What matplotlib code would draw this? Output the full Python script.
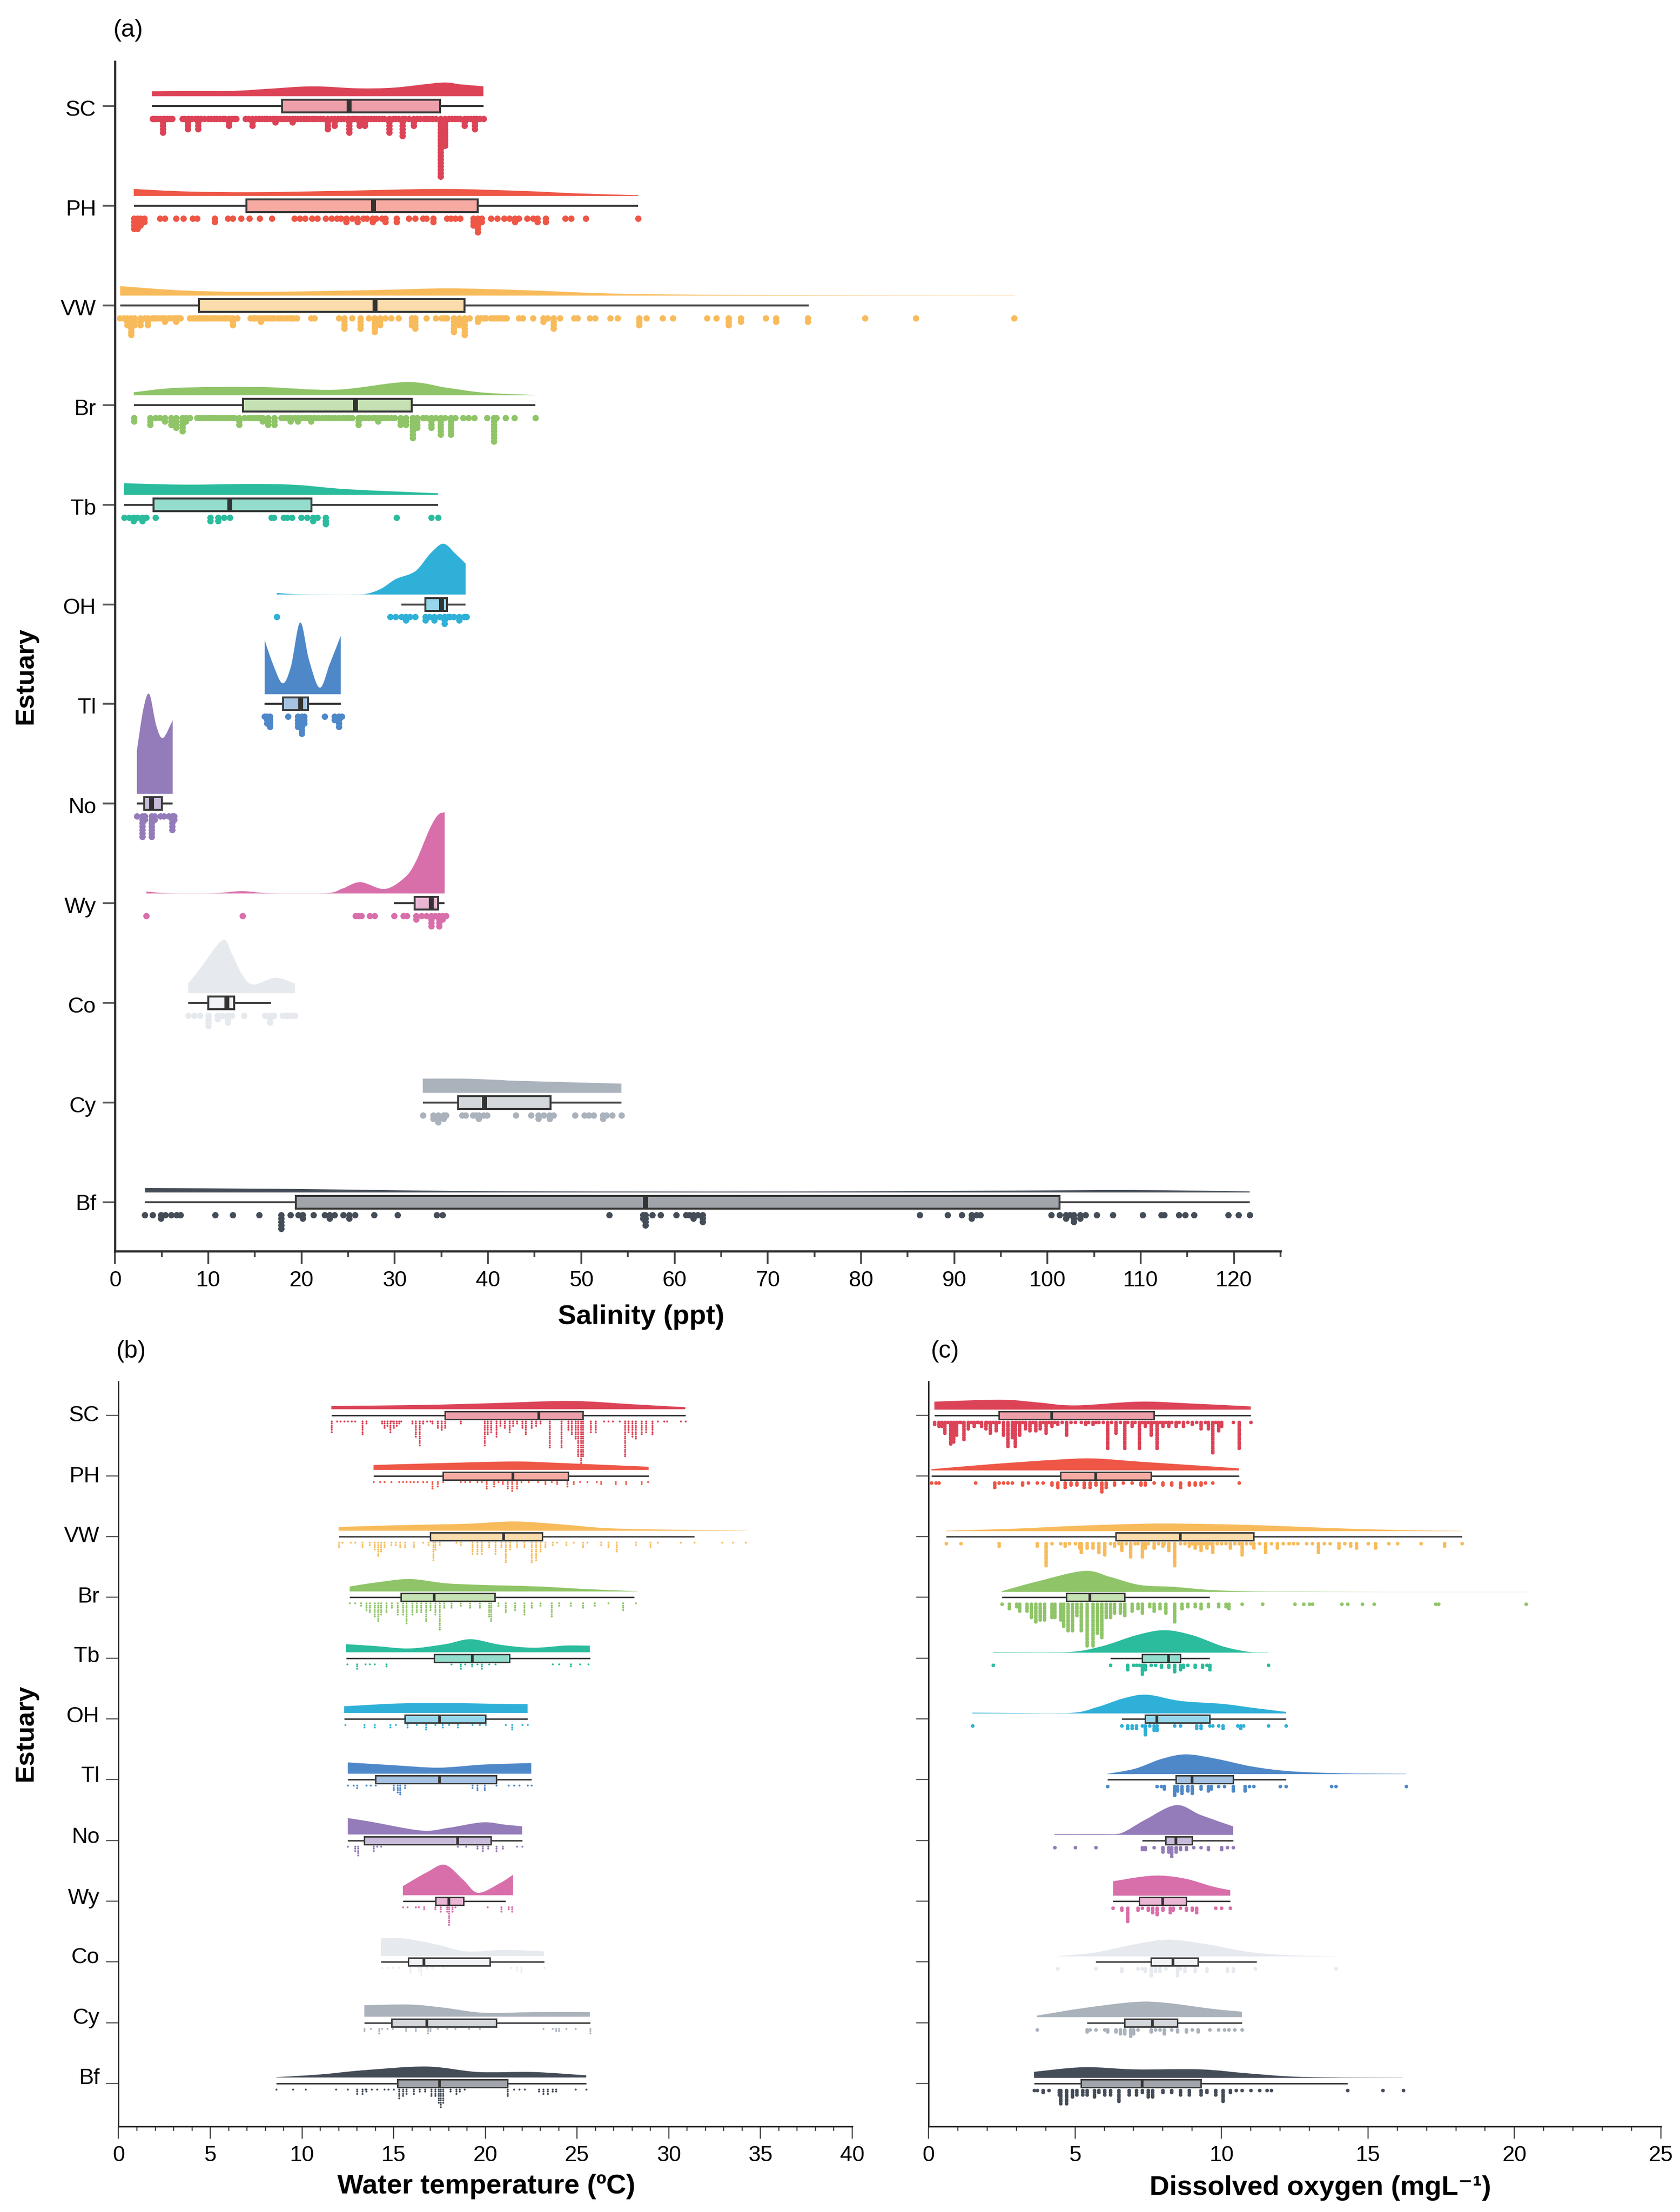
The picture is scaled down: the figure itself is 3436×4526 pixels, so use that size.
import matplotlib
matplotlib.use("Agg")
import matplotlib.pyplot as plt
from matplotlib.path import Path
from matplotlib.patches import PathPatch
from matplotlib.colors import to_rgba
from matplotlib.ticker import MultipleLocator
from matplotlib.transforms import ScaledTranslation

plt.rcParams['font.family'] = ['Liberation Sans', 'DejaVu Sans']

estuaries = ['SC', 'PH', 'VW', 'Br', 'Tb', 'OH', 'Tl', 'No', 'Wy', 'Co', 'Cy', 'Bf']
colours = ['#DC4357', '#EE5646', '#F8BB5B', '#8FC568', '#2ABC9D', '#2FB0D8',
           '#4F88C8', '#947BB9', '#D86FAA', '#E6E9EE', '#AAB2BC', '#444C58']

# ---------- box statistics ----------
sal_low = [3.95, 2, .54, 2, .95, 30.7, 16.05, 2.33, 29.9, 7.83, 33, 3.2]
sal_q1 = [17.9, 14.1, 9, 13.7, 4.1, 33.3, 18, 3.1, 32.1, 10, 36.8, 19.4]
sal_med = [25.1, 27.7, 27.9, 25.8, 12.3, 35, 19.9, 3.9, 33.9, 12, 39.6, 56.9]
sal_q3 = [34.85, 38.9, 37.5, 31.8, 21.05, 35.6, 20.7, 5, 34.65, 12.8, 46.7, 101.3]
sal_high = [39.5, 56.1, 74.4, 45.1, 34.65, 37.6, 24.2, 6.18, 35.35, 16.7, 54.3, 121.7]

tem_low = [11.6, 13.9, 12, 12.6, 12.4, 12.3, 12.5, 12.5, 15.5, 14.3, 13.4, 8.6]
tem_q1 = [17.8, 17.7, 17, 15.4, 17.2, 15.6, 14, 13.4, 17.3, 15.8, 14.9, 15.2]
tem_med = [22.9, 21.5, 21, 17.2, 19.3, 17.5, 17.5, 18.5, 18, 16.65, 16.8, 17.5]
tem_q3 = [25.3, 24.5, 23.1, 20.5, 21.3, 20, 20.6, 20.3, 18.8, 20.25, 20.6, 21.2]
tem_high = [30.9, 28.9, 31.4, 28.1, 25.7, 22.3, 22.5, 22, 21.1, 23.2, 25.7, 25.5]

oxy_low = [.2, .1, .6, 2.5, 6.2, 6.6, 6.1, 7.3, 6.3, 5.7, 5.4, 3.6]
oxy_q1 = [2.4, 4.5, 6.4, 4.7, 7.3, 7.4, 8.45, 8.1, 7.2, 7.6, 6.7, 5.2]
oxy_med = [4.2, 5.7, 8.6, 5.5, 8.2, 7.8, 9, 8.45, 8, 8.35, 7.65, 7.3]
oxy_q3 = [7.7, 7.6, 11.1, 6.7, 8.6, 9.6, 10.4, 9, 8.8, 9.2, 8.5, 9.3]
oxy_high = [11, 10.6, 18.2, 9.6, 9.6, 12.2, 12.2, 10.4, 10.3, 11.2, 10.7, 14.3]

# ---------- density curves (x value, height as % of a row) ----------
sal_SC_x = [3.95, 7.6, 12.8, 16.4, 21.2, 26, 30, 35, 37, 39.5]
sal_SC_h = [5, 5.5, 5.5, 7.5, 10, 8, 8.75, 13.75, 12, 10]
sal_PH_x = [2, 7.6, 14.8, 23.6, 34.9, 43.7, 49.7, 56.1]
sal_PH_h = [7, 4.5, 3.75, 5, 7, 5, 2.5, .75]
sal_VW_x = [.54, 7.6, 15.6, 27.6, 35.6, 43.7, 51.7, 58.4, 70, 80, 96.5]
sal_VW_h = [9.5, 5, 3.75, 5.5, 7.25, 5.5, 2.5, 1.25, .6, .3, .2]
sal_Br_x = [2, 6.8, 15.6, 23.6, 31.2, 35.6, 39.7, 45.1]
sal_Br_h = [3, 7.5, 8.25, 5.5, 13.25, 7.5, 2.5, .25]
sal_Tb_x = [.95, 7.5, 14.7, 19.5, 24.9, 34.65]
sal_Tb_h = [11.7, 10.3, 11, 10, 5.7, 1.6]
sal_OH_x = [17.35, 19.6, 25.6, 27.1, 28.6, 30.1, 32.2, 33.8, 35.2, 36.5, 37.6]
sal_OH_h = [1.7, .3, .1, 1, 6.2, 15.5, 23.4, 41, 51, 41, 31]
sal_Tl_x = [16.05, 16.9, 17.95, 18.85, 19.85, 20.8, 21.95, 23.05, 24.2]
sal_Tl_h = [54, 31, 11, 27.5, 72, 34.4, 6.5, 31, 58.5]
sal_No_x = [2.33, 3.05, 3.68, 4.4, 5.13, 6.18]
sal_No_h = [43, 86, 100, 69, 56, 74]
sal_Wy_x = [3.35, 5.76, 10.6, 13.6, 16.6, 22.6, 24.4, 26.3, 28.9, 31, 32.2, 33.75, 34.65, 35.35]
sal_Wy_h = [2, .3, .3, 2.4, .3, .3, 5, 11.4, 4.5, 15.5, 31, 65, 79, 81.5]
sal_Co_x = [7.83, 9.07, 11.5, 12.5, 13.6, 14.8, 17.2, 19.3]
sal_Co_h = [9.6, 24, 53, 40, 19, 8.6, 15.5, 9.6]
sal_Cy_x = [33, 37.3, 41, 43.3, 54.3]
sal_Cy_h = [14.2, 14.2, 13, 12, 9.2]
sal_Bf_x = [3.2, 17.3, 30.3, 40.3, 63.7, 80, 95, 109, 121.7]
sal_Bf_h = [4.4, 3.7, 2.2, 1.3, .9, 1.2, 1.8, 2.4, 1.1]

tem_SC_x = [11.6, 16.5, 20.3, 24.65, 28, 30.9]
tem_SC_h = [5.3, 7, 9.9, 13.6, 8.2, 3.3]
tem_PH_x = [13.9, 17.8, 21.6, 24.1, 28.9]
tem_PH_h = [8.2, 11.5, 14, 11.5, 5.3]
tem_VW_x = [12, 15.2, 19, 21.6, 24.2, 26.7, 30.5, 33.5, 34.3]
tem_VW_h = [6.2, 9, 11.5, 15.2, 10.3, 4.1, 1.6, .6, .2]
tem_Br_x = [12.6, 13.95, 15.85, 17.8, 19.6, 22.9, 25.4, 28.3]
tem_Br_h = [8.2, 14.4, 20.5, 13.6, 11, 8.2, 4.1, .4]
tem_Tb_x = [12.4, 13.95, 15.85, 17.8, 19.2, 20.8, 22.6, 24.4, 25.7]
tem_Tb_h = [13.2, 10.3, 6.2, 13.2, 21.4, 12.3, 7.4, 11, 10.7]
tem_OH_x = [12.3, 15.2, 17.8, 20.3, 22.3]
tem_OH_h = [11, 15.6, 16.4, 15.2, 14.4]
tem_Tl_x = [12.5, 15, 17.45, 19.85, 22.5]
tem_Tl_h = [18.6, 14, 10, 15, 17.6]
tem_No_x = [12.5, 13.75, 16.5, 18, 19.85, 21.1, 22]
tem_No_h = [27, 21, 6.5, 11, 20, 16, 13.5]
tem_Wy_x = [15.5, 16.8, 17.8, 18.8, 19.6, 20.8, 21.5]
tem_Wy_h = [15, 37.6, 50, 25, 4, 20, 33.6]
tem_Co_x = [14.3, 15.6, 17.4, 18.95, 21.1, 23.2]
tem_Co_h = [29, 28.6, 18.6, 7.5, 10, 7.5]
tem_Cy_x = [13.4, 15.9, 17.7, 19.9, 22.6, 25.7]
tem_Cy_h = [19, 20, 15, 6.5, 7.5, 7.5]
tem_Bf_x = [8.6, 11, 13.4, 16.8, 19.6, 22.6, 25.5]
tem_Bf_h = [.5, 5, 12, 18, 9, 9, 3.5]

oxy_SC_x = [.2, 2.46, 3.65, 5, 7.2, 8.9, 11]
oxy_SC_h = [13.2, 16.4, 12.3, 7, 13.2, 10.3, 5.3]
oxy_PH_x = [.1, 2.15, 4.25, 5.6, 7.2, 8.9, 10.6]
oxy_PH_h = [2, 10.3, 17.3, 19.7, 14.4, 9, 3.3]
oxy_VW_x = [.6, 2.9, 5.15, 7.4, 8.85, 11.1, 14.1, 16.3, 18.2]
oxy_VW_h = [.8, 4, 9, 12.3, 12.3, 10, 4.5, 1.6, .4]
oxy_Br_x = [2.5, 3.65, 5.3, 6.2, 7.2, 8.4, 9.6, 11.1, 12.6, 15.35, 20.4]
oxy_Br_h = [1.2, 16.4, 34.5, 24.7, 11.5, 8.2, 3.3, .8, .6, .2, .2]
oxy_Tb_x = [2.2, 4.7, 5.9, 7.1, 8.05, 9, 10.05, 10.95, 11.6]
oxy_Tb_h = [.8, .8, 10.3, 28.8, 37, 28.8, 10.3, 1.2, .4]
oxy_OH_x = [1.5, 4.7, 5.75, 6.65, 7.45, 8.6, 10.05, 11.1, 12.2]
oxy_OH_h = [1.2, .4, 10.3, 24.7, 30.8, 20.5, 15.6, 9, 2.5]
oxy_Tl_x = [6.1, 7.05, 7.95, 8.8, 9.85, 11.05, 12.3, 14, 16.3]
oxy_Tl_h = [.5, 9, 25, 32.6, 25, 12.5, 5, 1.5, .5]
oxy_No_x = [4.3, 5.85, 6.55, 7.4, 8.45, 9.3, 10.4]
oxy_No_h = [1.5, 1.5, 2.5, 25, 49, 32.6, 14]
oxy_Wy_x = [6.3, 7.25, 7.95, 8.8, 9.7, 10.3]
oxy_Wy_h = [23.6, 31, 33, 27.6, 15, 9]
oxy_Co_x = [4.4, 5.65, 7.05, 8.2, 9.5, 10.9, 12.3, 13.9]
oxy_Co_h = [.5, 6, 20, 27.6, 20, 7.5, 2, .3]
oxy_Cy_x = [3.7, 5.3, 7.05, 8.1, 9.7, 10.7]
oxy_Cy_h = [2.5, 15, 25, 23.6, 13.6, 9]
oxy_Bf_x = [3.6, 5.3, 7.05, 9.3, 10.9, 12.8, 16.2]
oxy_Bf_h = [10, 17.6, 14, 14, 7.5, 1.5, .3]

# ---------- dot plots: single dots, and (value, count) stacks ----------
sal_SC_one = [4, 4.25, 4.5, 4.8, 5.35, 5.6, 5.85, 6.1, 7.2, 7.5, 7.9, 8.2, 8.6, 8.9, 9.2, 9.6, 10, 10.3, 10.6, 10.9, 11.2, 11.5, 11.8,
              12.5, 12.8, 13, 14, 14.3, 15.1, 15.4, 15.7, 16, 16.3, 16.6, 16.9, 17.5, 17.8, 18.1, 18.4, 18.7, 19.3, 19.6, 19.9, 20.2,
              20.5, 20.8, 21.1, 21.4, 21.7, 22, 22.3, 23.2, 23.9, 24.2, 24.5, 24.9, 25.4, 25.6, 25.9, 26.5, 27.1, 27.4, 27.7, 28, 28.3,
              28.6, 28.9, 29.8, 30.1, 30.4, 31.1, 31.5, 32.4, 32.7, 33.1, 33.4, 33.7, 34, 34.4, 35.8, 36.1, 36.4, 36.7, 37, 37.8, 38.1,
              38.4, 38.8, 39.1, 39.5]
sal_SC_stack = [(5.1, 5), (7.8, 4), (8.9, 4), (12.2, 3), (14.7, 3), (17.2, 2), (19, 2), (22.8, 4), (23.5, 3), (25.1, 5), (26.2, 3),
                (26.8, 3), (29.4, 5), (30.8, 6), (32, 3), (34.9, 18), (35.4, 9), (37.5, 3), (38.6, 4)]
sal_PH_one = [4.8, 5.35, 6.55, 7.3, 8.3, 8.8, 12.1, 12.6, 13.5, 14.4, 15.5, 16.8, 19.2, 19.8, 20.4, 21.1, 21.7, 22.6, 23.2, 23.8,
              24.2, 25.4, 26.6, 27, 28, 28.6, 31.5, 32.2, 33, 33.4, 35.6, 36, 36.5, 37, 40.3, 41, 41.7, 42.3, 43.3, 44.2, 44.8,
              48.3, 48.9, 50.5, 56.1]
sal_PH_stack = [(2, 4), (2.4, 4), (2.7, 3), (3.1, 2), (10.7, 2), (24.8, 2), (26, 2), (27.6, 2), (29, 2), (30.2, 2), (34.1, 2),
                (38.4, 3), (38.9, 5), (39.3, 2), (42.9, 2), (45.3, 2), (46.2, 2)]
sal_VW_one = [.5, .9, 3.2, 3.95, 4.2, 4.5, 4.8, 5.1, 5.7, 6, 6.3, 6.8, 7, 8, 8.3, 8.6, 8.9, 9.1, 9.3, 9.6, 9.9, 10.2, 10.5, 10.8, 11.1,
              11.4, 11.7, 12, 12.3, 13.1, 14.5, 14.8, 15, 15.3, 15.9, 16.2, 16.5, 16.8, 17.1, 17.5, 17.8, 18.2, 18.5, 18.8, 19.1, 19.5,
              21, 21.4, 24, 25.4, 27.2, 29, 29.6, 30.4, 33.4, 34.4, 35, 35.3, 35.6, 38, 39.2, 39.5, 39.8, 40.3, 40.6, 40.9, 41.2, 41.5,
              41.8, 42, 43.3, 43.7, 44.8, 46.4, 47.7, 49.2, 49.6, 50.9, 51.5, 53.1, 53.9, 57, 58.7, 59.8, 63.5, 64.5, 69.8, 80.4,
              85.9, 96.4]
sal_VW_stack = [(1.7, 6), (1.3, 3), (2.1, 3), (2.7, 3), (3.5, 3), (5.35, 2), (6.55, 2), (12.6, 3), (15.6, 2), (24.6, 4), (26.3, 4),
                (27.8, 5), (28.4, 3), (31.8, 3), (32.2, 4), (36.3, 5), (36.9, 3), (37.5, 6), (38.9, 2), (45.9, 2), (47, 4),
                (56.2, 3), (65.8, 3), (67.1, 2), (70.9, 2), (74.3, 2)]
sal_Br_one = [4.35, 4.8, 8, 8.8, 9.1, 9.4, 9.7, 10, 10.2, 10.45, 10.7, 11, 11.3, 11.6, 11.9, 12.2, 12.5, 12.8, 13.9, 14.3, 14.6, 14.9,
              15.2, 15.5, 17.8, 18.2, 18.5, 19.2, 20, 20.4, 20.7, 21.4, 21.8, 22.2, 22.6, 22.9, 23.2, 23.6, 24, 24.4, 24.8, 25.1, 25.4,
              26.4, 26.8, 27.2, 27.6, 27.9, 28.5, 28.8, 29.2, 29.6, 30, 33, 33.4, 34.4, 35.4, 36.5, 37.3, 37.9, 38.5, 39.9, 40.9, 41.9,
              42.8, 45.1]
sal_Br_stack = [(2, 2), (3.75, 3), (5.35, 2), (6, 3), (6.55, 4), (7.2, 5), (7.6, 2), (13.3, 3), (15.8, 2), (16.4, 3), (17.1, 3),
                (18.8, 2), (19.6, 2), (21, 2), (26.1, 3), (28.2, 2), (30.6, 3), (31.2, 3), (31.9, 7), (32.4, 4), (33.9, 4),
                (34.9, 6), (36, 6), (40.6, 8)]
sal_Tb_one = [.95, 1.5, 2.4, 3.35, 4.35, 11.65, 12.3, 16.75, 17, 18.05, 18.45, 18.95, 19.95, 20.6, 21.7, 30.2, 33.9, 34.65]
sal_Tb_stack = [(1.95, 2), (2.9, 2), (10.2, 2), (11.05, 2), (21.2, 2), (22.6, 3)]
sal_OH_one = [17.35, 29.5, 30.1, 30.7, 31.6, 32.2, 33.7, 34.8, 35.7, 35.9, 36.3, 37.4, 37.7]
sal_OH_stack = [(31.2, 2), (33.3, 2), (34.2, 2), (35.3, 3), (36.9, 2)]
sal_Tl_one = [16, 18.55, 22.5, 24.3]
sal_Tl_stack = [(16.3, 3), (16.6, 4), (19.6, 4), (20, 6), (20.3, 3), (23.5, 2), (24, 4)]
sal_No_one = [2.33, 4.85, 5.2, 5.75]
sal_No_stack = [(2.9, 7), (3.2, 2), (3.9, 7), (4.25, 2), (6.1, 5), (6.3, 2)]
sal_Wy_one = [3.35, 13.65, 25.8, 26.1, 26.4, 27.3, 27.8, 29.9, 30.9, 31.3, 32.85, 33.4, 34.35, 35.5]
sal_Wy_stack = [(32.3, 2), (33.9, 4), (34.75, 4), (35.1, 2)]
sal_Co_one = [7.83, 8.5, 9.1, 11.5, 12.5, 13.8, 16.1, 17, 17.95, 18.4, 18.85, 19.3]
sal_Co_stack = [(10, 4), (11, 2), (12.1, 3), (16.6, 3)]
sal_Cy_one = [33, 35.5, 37.2, 37.6, 38.35, 38.7, 39.5, 39.9, 43, 44.6, 45.95, 47, 49.35, 50.3, 50.8, 51.3, 52.7, 53.3, 54.3]
sal_Cy_stack = [(34.1, 2), (34.65, 3), (35.2, 2), (39, 2), (45.4, 2), (46.6, 2), (52.3, 2)]
sal_Bf_one = [3.2, 4, 5.4, 6, 6.6, 7, 10.75, 12.6, 15.45, 18.8, 19.65, 21.25, 22.5, 23.55, 24.45, 25.75, 27.75, 30.3, 34.5, 35.1,
              53, 57.6, 58.5, 60.2, 61.25, 61.6, 62.5, 86.3, 89.3, 90.8, 92.4, 92.8, 100.4, 101.3, 102.4, 104.1, 105.3, 107,
              110.2, 112.2, 112.5, 114.1, 114.8, 115.7, 119.4, 120.5, 121.7]
sal_Bf_stack = [(4.9, 2), (17.8, 5), (20.1, 2), (23, 2), (25.1, 2), (56.9, 4), (56.6, 2), (62, 2), (63, 3), (91.85, 2), (102, 2),
                (102.8, 3), (103.5, 2)]

tem_SC_one = [11.9, 12.1, 12.3, 12.5, 12.7, 12.9, 16.8, 17, 26.7, 26.95, 27.3, 29.4, 29.75, 29.9, 30.65, 30.9, 15.4, 14.9]
tem_SC_stack = [(11.6, 6), (13.3, 7), (13.5, 2), (14.35, 2), (14.5, 4), (14.65, 3), (14.8, 6), (15, 4), (15.15, 3), (15.3, 2), (16, 2),
                (16.2, 8), (16.4, 12), (16.6, 2), (17.1, 2), (17.4, 4), (17.6, 5), (17.8, 4), (18.65, 2), (19.95, 12), (20.1, 7),
                (20.3, 6), (20.6, 8), (20.8, 3), (21.05, 4), (21.3, 6), (21.5, 3), (21.7, 2), (22, 4), (22.2, 7), (22.5, 4),
                (22.75, 3), (23, 2), (23.5, 13), (24.15, 13), (24.5, 5), (24.7, 7), (24.9, 9), (25.05, 17), (25.2, 20), (25.3, 17),
                (25.75, 6), (26, 6), (26.45, 1), (27.6, 17), (27.8, 6), (28, 8), (28.2, 9), (28.5, 7), (28.75, 6), (29.1, 7)]
tem_PH_one = [13.9, 14.25, 14.5, 14.85, 15.3, 15.5, 15.7, 15.9, 16.1, 16.3, 16.6, 16.8, 17.7, 18.65, 18.9, 19.15, 19.55, 19.8, 20.7,
              21.95, 22.35, 22.85, 23.6, 25.15, 25.55, 26.05, 28.85]
tem_PH_stack = [(17.1, 4), (17.4, 3), (20.05, 4), (20.45, 3), (20.95, 2), (21.2, 4), (21.45, 5), (21.7, 4), (23.25, 2), (23.9, 2),
                (24.45, 3), (24.8, 2), (26.3, 2), (27.1, 2), (27.65, 2), (28.5, 2)]
tem_VW_one = [12.2, 12.65, 12.9, 16.6, 18.4, 23.9, 24.8, 25.55, 29.4, 30.65, 31.4, 32.9, 33.5, 34.2]
tem_VW_stack = [(12, 3), (13.3, 3), (13.7, 2), (13.95, 4), (14.15, 7), (14.3, 5), (14.5, 3), (14.85, 2), (15.1, 2), (15.35, 3), (15.6, 3),
                (16.1, 3), (16.9, 2), (17.15, 9), (17.25, 4), (17.5, 2), (18.65, 2), (19.3, 6), (19.55, 6), (19.8, 6), (20.2, 3),
                (20.55, 6), (20.85, 3), (21.1, 10), (21.35, 4), (21.7, 3), (22.1, 3), (22.5, 10), (22.75, 9), (23, 5), (23.25, 3),
                (23.65, 2), (24.4, 2), (25.3, 3), (26.3, 2), (26.7, 3), (27.15, 5), (28.2, 2), (29, 3)]
tem_Br_one = [12.6, 12.9, 26.7, 28.2]
tem_Br_stack = [(13.2, 2), (13.5, 4), (13.7, 5), (13.95, 7), (14.15, 9), (14.3, 6), (14.6, 5), (14.9, 3), (15.2, 6), (15.5, 6), (15.7, 10),
                (16, 6), (16.25, 5), (16.5, 5), (16.75, 9), (17, 4), (17.25, 6), (17.5, 13), (17.75, 3), (18.15, 3), (18.65, 2),
                (19.15, 3), (19.7, 3), (20.2, 7), (20.3, 9), (20.7, 2), (21.1, 5), (21.6, 4), (22.1, 6), (22.5, 3), (23, 2),
                (23.6, 7), (24, 2), (24.65, 2), (25.3, 3), (25.95, 2), (27.5, 4)]
tem_Tb_one = [12.45, 13.45, 13.7, 13.95, 18.15, 18.9, 19.55, 20.2, 20.55, 23.65, 24, 25.15, 25.6]
tem_Tb_stack = [(13, 3), (14.6, 2), (18.65, 3), (19.25, 2), (19.8, 3), (24.65, 2)]
tem_OH_one = [12.35, 15.1, 16.25, 17.25, 18, 19.3, 19.7, 20, 21.1, 22, 22.3]
tem_OH_stack = [(13.4, 2), (13.95, 2), (14.8, 2), (15.75, 2), (16.75, 3), (17.65, 2), (18.5, 2), (21.45, 3)]
tem_Tl_one = [12.5, 12.8, 13.5, 13.75, 14, 20.6, 21.25, 21.55, 21.85, 22.3, 22.5]
tem_Tl_stack = [(13, 2), (15, 3), (15.2, 4), (15.35, 5), (15.6, 2), (19.3, 2), (19.55, 3), (19.95, 3)]
tem_No_one = [12.5, 14.1, 14.3, 18.5, 18.95, 21.7, 22]
tem_No_stack = [(12.9, 3), (13.05, 5), (13.9, 3), (19.55, 2), (19.85, 3), (20.15, 2), (20.6, 3), (20.95, 2)]
tem_Wy_one = [15.5, 15.75, 16.2, 16.35, 18.35, 20.1]
tem_Wy_stack = [(16.65, 2), (17.25, 2), (17.55, 3), (17.9, 3), (18, 9), (18.2, 3), (20.85, 3), (21.25, 2), (21.45, 3)]
tem_Co_one = [14.35, 14.65, 14.95, 15.25, 16.8, 17.1, 17.7, 21.4, 23.2]
tem_Co_stack = [(15.9, 3), (16.35, 2), (16.5, 4), (21.7, 2), (21.95, 3)]
tem_Cy_one = [13.75, 14.35, 14.65, 14.95, 17.4, 17.9, 18.35, 19.1, 19.7, 23.15, 23.65, 24.4, 24.9]
tem_Cy_stack = [(13.4, 2), (14.2, 3), (15.65, 2), (16.2, 2), (16.85, 3), (17, 2), (23.85, 2), (24, 2), (25.7, 3)]
tem_Bf_one = [8.6, 9.5, 10.2, 11.85, 12.5, 13.45, 13.8, 14.1, 14.5, 14.7, 15, 18.85, 21.55, 21.85, 22.15, 24.9, 25.5]
tem_Bf_stack = [(13, 3), (13.3, 3), (13.5, 2), (15.3, 5), (15.5, 4), (15.7, 3), (16.1, 3), (16.4, 2), (16.7, 2), (17.05, 4), (17.25, 4),
                (17.45, 7), (17.55, 9), (17.7, 7), (18.1, 2), (18.4, 3), (18.6, 2), (21.2, 4), (22.9, 2), (23.15, 3), (23.4, 3),
                (23.65, 2), (23.85, 2)]

oxy_SC_one = [.65, 1.05, 1.1, 1.45, 1.65, 1.7, 2, 2.2, 2.4, 3, 3.2, 3.55, 3.9, 4.1, 4.3, 4.55, 4.85, 5, 5.2, 5.45, 5.7, 5.8, 5.95, 6.25,
              6.55, 6.8, 7.05, 7.3, 7.5, 7.7, 7.9, 8.1, 8.3, 8.55, 8.85, 9.15, 9.45, 9.8, 10.4, 11]
oxy_SC_stack = [(.2, 2), (.35, 3), (.45, 3), (.55, 6), (.75, 11), (.85, 10), (.95, 7), (1.2, 9), (1.35, 4), (1.55, 3), (1.8, 3), (1.95, 4),
                (2.1, 6), (2.3, 5), (2.55, 7), (2.7, 12), (2.85, 8), (2.95, 12), (3.1, 7), (3.3, 4), (3.45, 5), (3.65, 5), (3.8, 4),
                (4, 6), (4.2, 3), (4.4, 2), (4.7, 7), (5.35, 2), (5.6, 2), (6.1, 13), (6.4, 6), (6.7, 13), (6.95, 3), (7.2, 13),
                (7.4, 3), (7.6, 7), (7.8, 13), (8, 3), (8.2, 3), (8.45, 3), (8.7, 3), (9, 2), (9.3, 4), (9.55, 4), (9.7, 15),
                (9.9, 5), (10, 3), (10.6, 13)]
oxy_PH_one = [.1, .25, .35, 1.6, 2.4, 2.55, 2.7, 2.85, 3.4, 3.7, 3.9, 6.65, 6.95, 7.7, 9.45, 9.7, 10.6]
oxy_PH_stack = [(2.25, 3), (3.2, 2), (4.2, 2), (4.4, 3), (4.65, 3), (4.85, 2), (5.05, 2), (5.3, 3), (5.5, 3), (5.7, 2), (5.9, 5), (6.05, 3),
                (6.35, 2), (7.25, 2), (7.4, 2), (8, 2), (8.3, 2), (8.6, 3), (8.9, 2), (9.1, 2), (9.3, 2)]
oxy_VW_one = [.6, 1.1, 4.2, 4.5, 4.8, 5, 6.2, 6.5, 6.75, 7.05, 7.15, 7.5, 7.85, 8.05, 8.6, 8.75, 9, 9.2, 9.4, 9.6, 9.85, 10, 10.15, 10.45,
              10.6, 10.85, 11, 11.3, 11.7, 12.1, 12.3, 12.45, 12.6, 12.9, 13.1, 13.5, 13.7, 14.2, 15, 15.7, 16, 16.8, 18.2]
oxy_VW_stack = [(2.4, 2), (3.7, 2), (4, 11), (4.65, 2), (5.15, 3), (5.2, 5), (5.4, 3), (5.6, 3), (5.8, 5), (6, 6), (6.35, 2), (6.6, 4),
                (6.9, 7), (7.3, 7), (7.4, 3), (7.7, 3), (8, 2), (8.2, 4), (8.4, 11), (8.9, 2), (9.1, 3), (9.3, 4), (9.5, 3), (9.7, 5),
                (10.3, 3), (10.7, 6), (11.1, 3), (11.5, 5), (11.9, 3), (13.3, 5), (14, 3), (14.4, 2), (14.6, 3), (15.25, 3), (17.6, 2)]
oxy_Br_one = [2.5, 10.7, 11.4, 12.5, 12.8, 13, 13.1, 14.1, 14.3, 14.8, 15.2, 17.3, 17.4, 20.4]
oxy_Br_stack = [(2.75, 3), (3, 2), (3.1, 4), (3.35, 4), (3.5, 7), (3.65, 9), (3.8, 8), (3.95, 8), (4.2, 7), (4.3, 7), (4.5, 8), (4.6, 11),
                (4.75, 13), (4.9, 13), (5.05, 6), (5.2, 13), (5.4, 20), (5.6, 20), (5.75, 14), (5.9, 16), (6.05, 7), (6.2, 7),
                (6.35, 5), (6.55, 5), (6.7, 6), (6.95, 4), (7.15, 3), (7.3, 5), (7.55, 2), (7.7, 4), (7.9, 3), (8.1, 5), (8.4, 9),
                (8.65, 3), (8.85, 2), (9.1, 2), (9.3, 3), (9.55, 2), (9.9, 2), (10.15, 2), (10.25, 3)]
oxy_Tb_one = [2.2, 6.2, 7, 7.1, 7.2, 7.6, 7.75, 8.85, 9.5, 11.6]
oxy_Tb_stack = [(6.8, 3), (7.35, 2), (7.3, 5), (7.4, 3), (7.95, 2), (8.2, 2), (8.4, 4), (8.6, 3), (8.7, 2), (9.1, 2), (9.35, 2), (9.6, 3)]
oxy_OH_one = [1.5, 6.6, 7.3, 7.55, 8.4, 8.6, 9.6, 9.7, 9.9, 10.55, 10.75, 11.6, 12.2]
oxy_OH_stack = [(6.8, 2), (6.95, 2), (7.1, 2), (7.4, 5), (7.7, 3), (7.8, 3), (9.15, 2), (9.3, 2), (10.05, 2), (10.65, 2)]
oxy_Tl_one = [6.1, 7.8, 7.95, 9.9, 10.1, 10.95, 11.1, 12, 12.2, 13.75, 13.9, 16.3]
oxy_Tl_stack = [(8.05, 2), (8.4, 5), (8.5, 3), (8.65, 4), (8.85, 3), (9, 4), (9.3, 2), (9.55, 3), (9.65, 2), (10.4, 3), (10.8, 3)]
oxy_No_one = [4.3, 5, 5.7, 7.7, 9.05, 9.3, 10.2, 10.4]
oxy_No_stack = [(7.3, 2), (7.4, 2), (8, 3), (8.2, 3), (8.3, 5), (8.45, 3), (8.6, 2), (8.8, 2), (9.55, 2), (10, 2)]
oxy_Wy_one = [6.3, 7.3, 8.6, 9.8, 10, 10.3]
oxy_Wy_stack = [(6.6, 2), (6.8, 7), (7.15, 2), (7.5, 2), (7.65, 3), (7.8, 4), (8, 2), (8.25, 3), (8.35, 2), (8.8, 2), (9, 2), (9.15, 3)]
oxy_Co_one = [4.4, 5.7, 7.15, 7.3, 8.1, 8.6, 11.15, 13.9]
oxy_Co_stack = [(6.6, 2), (7.4, 2), (7.6, 4), (7.75, 2), (7.9, 2), (8.5, 4), (8.75, 2), (9.1, 2), (9.5, 2), (10.2, 2), (10.4, 2)]
oxy_Cy_one = [3.7, 5.5, 5.7, 6, 7.15, 7.75, 7.9, 8.3, 9, 9.6, 9.9, 10.1, 10.25, 10.45, 10.7]
oxy_Cy_stack = [(5.4, 2), (6.1, 2), (6.4, 2), (6.55, 3), (6.7, 3), (6.9, 4), (7, 3), (7.6, 2), (8.05, 3), (8.5, 2), (8.8, 2), (9.2, 2)]
oxy_Bf_one = [3.6, 3.7, 4.1, 10.5, 10.7, 11, 11.3, 11.55, 11.7, 14.3, 15.5, 16.2]
oxy_Bf_stack = [(3.9, 2), (4.45, 3), (4.5, 7), (4.7, 7), (4.9, 4), (5.05, 3), (5.25, 3), (5.4, 3), (5.65, 4), (5.8, 2), (6, 3), (6.2, 3),
                (6.5, 6), (6.85, 3), (7.1, 3), (7.3, 2), (7.5, 4), (7.65, 4), (8, 2), (8.3, 2), (8.6, 3), (8.9, 3), (9.3, 3), (9.5, 2),
                (9.8, 3), (10.05, 6), (10.3, 2)]

# ---------- figure ----------
W, H = 3437, 4526
DPI = 100
fig = plt.figure(figsize=(W / DPI, H / DPI), dpi=DPI)
PT = 72 / DPI


def make_axes(left, right, top, bottom, row0, step, xmax):
    ax = fig.add_axes([left / W, 1 - bottom / H, (right - left) / W, (bottom - top) / H])
    ax.set_xlim(0, xmax)
    ax.set_ylim((bottom - row0) / step, (top - row0) / step)
    return ax


def smooth_patch(xs, hs, row, base, colour):
    """Closed path through the read points using Bezier segments."""
    ys = [row + base - h / 100 for h in hs]
    bottom = row + base
    verts = [(xs[0], bottom), (xs[0], ys[0])]
    codes = [Path.MOVETO, Path.LINETO]
    n = len(xs)
    for i in range(n - 1):
        a, b = max(i - 1, 0), min(i + 2, n - 1)
        c1 = (xs[i] + (xs[i + 1] - xs[a]) / 6, min(ys[i] + (ys[i + 1] - ys[a]) / 6, bottom))
        c2 = (xs[i + 1] - (xs[b] - xs[i]) / 6, min(ys[i + 1] - (ys[b] - ys[i]) / 6, bottom))
        verts += [c1, c2, (xs[i + 1], ys[i + 1])]
        codes += [Path.CURVE4] * 3
    verts += [(xs[-1], bottom), (xs[0], bottom)]
    codes += [Path.LINETO, Path.CLOSEPOLY]
    return PathPatch(Path(verts, codes), facecolor=colour, edgecolor='none', zorder=2)


def draw_panel(ax, prefix, base, dot_off, dot_step, dot_px, box_w, line_px, med_px):
    g = globals()
    low, q1, med, q3, high = (g[f'{prefix}_{k}'] for k in ('low', 'q1', 'med', 'q3', 'high'))
    stats = [dict(med=med[i], q1=q1[i], q3=q3[i], whislo=low[i], whishi=high[i], fliers=[])
             for i in range(len(estuaries))]
    lw = line_px * PT
    bp = ax.bxp(stats, positions=range(len(estuaries)), widths=box_w, orientation='horizontal',
                patch_artist=True, showcaps=False, showfliers=False, manage_ticks=False,
                boxprops=dict(linewidth=lw, edgecolor='#3a3a3a'),
                whiskerprops=dict(linewidth=lw, color='#3a3a3a', solid_capstyle='butt'),
                medianprops=dict(linewidth=med_px * PT, color='#333333', solid_capstyle='butt'),
                zorder=3)
    for i, name in enumerate(estuaries):
        bp['boxes'][i].set_facecolor(to_rgba(colours[i], 0.5))
        ax.add_patch(smooth_patch(g[f'{prefix}_{name}_x'], g[f'{prefix}_{name}_h'], i, base, colours[i]))
        xs = list(g[f'{prefix}_{name}_one'])
        ys = [i + dot_off] * len(xs)
        for value, count in g[f'{prefix}_{name}_stack']:
            for k in range(count):
                xs.append(value)
                ys.append(i + dot_off + k * dot_step)
        ax.scatter(xs, ys, s=(dot_px * PT) ** 2, color=colours[i], linewidths=0, zorder=2)


def style_axes(ax, major, minor, major_len, minor_len, spine_px, label, label_xy, ylabel_xy, pad, nudges=None):
    for s in ('top', 'right'):
        ax.spines[s].set_visible(False)
    for s in ('left', 'bottom'):
        ax.spines[s].set_linewidth(spine_px * PT)
        ax.spines[s].set_color('#2b2b2b')
    ax.xaxis.set_major_locator(MultipleLocator(major))
    ax.xaxis.set_minor_locator(MultipleLocator(minor))
    ax.tick_params(axis='x', which='major', length=major_len * PT, width=spine_px * .8 * PT, color='#444444',
                   labelsize=32.5, pad=pad, labelcolor='black')
    ax.tick_params(axis='x', which='minor', length=minor_len * PT, width=spine_px * .8 * PT, color='#444444')
    ax.set_yticks(range(len(estuaries)))
    ax.tick_params(axis='y', length=25 * PT, width=spine_px * .8 * PT, color='#555555', labelsize=32.5, pad=10)
    ax.set_xlabel(label, fontsize=40.5, fontweight='bold')
    ax.xaxis.set_label_coords(label_xy[0] / W, 1 - label_xy[1] / H, transform=fig.transFigure)
    ax.xaxis.label.set_verticalalignment('center')
    if ylabel_xy:
        ax.set_yticklabels(estuaries)
        ax.set_ylabel('Estuary', fontsize=39, fontweight='bold')
        ax.yaxis.set_label_coords(ylabel_xy[0] / W, 1 - ylabel_xy[1] / H, transform=fig.transFigure)
        ax.yaxis.label.set_verticalalignment('center')
        if nudges:
            for lab, dy in zip(ax.get_yticklabels(), nudges):
                lab.set_transform(lab.get_transform() + ScaledTranslation(0, -dy / DPI, fig.dpi_scale_trans))
    else:
        ax.set_yticklabels([])


# (a) salinity
ax_a = make_axes(235.4, 2619, 126, 2560, 217, 203.9, 125)
draw_panel(ax_a, 'sal', -.098, .1275, .034, 13, 26 / 203.9, 4, 10)
style_axes(ax_a, 10, 5, 26, 12, 4.5, 'Salinity (ppt)', (1311, 2695), (52, 1383), 10,
           [4, 4, 4, 4, 4, 4, 4, 4, 4, 4, 4, 0])

# (b) temperature
ax_b = make_axes(242.5, 1743, 2827, 4351, 2895.5, 124.3, 40)
draw_panel(ax_b, 'tem', -.097, .097, .036, 4, 16 / 124.3, 3, 5.5)
style_axes(ax_b, 5, 1, 25, 9, 3, 'Water temperature (\u00baC)', (995, 4474), (52, 3546), 10,
           [-3.5, -3, -5, -5.5, -8, -9, -11, -10.5, -10, -13, -13, -15])

# (c) dissolved oxygen
ax_c = make_axes(1899, 3397, 2827, 4351, 2895.5, 124.3, 25)
draw_panel(ax_c, 'oxy', -.09, .113, .036, 7.5, 16 / 124.3, 3, 5.5)
style_axes(ax_c, 5, 1, 25, 9, 3, 'Dissolved oxygen (mgL\u207b\u00b9)', (2700, 4477), None, 10)
for t in ax_c.xaxis.get_major_ticks():
    if abs(t.get_loc() - 15) < 1e-6:
        t.set_pad(15)

for text, (px, py) in (('(a)', (262, 62)), ('(b)', (268, 2765)), ('(c)', (1933, 2765))):
    fig.text(px / W, 1 - py / H, text, fontsize=36, ha='center', va='center')

fig.savefig('out.png', dpi=DPI)
